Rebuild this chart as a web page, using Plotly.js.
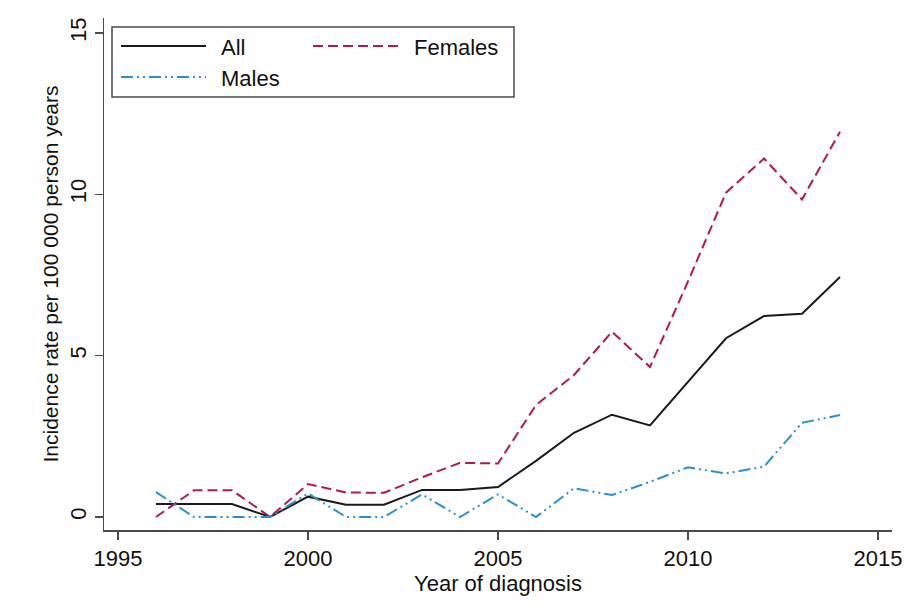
<!DOCTYPE html>
<html>
<head>
<meta charset="utf-8">
<script src="https://cdn.plot.ly/plotly-3.0.1.min.js"></script>
<style>
  html, body { margin: 0; padding: 0; background: #ffffff; }
  #chart { width: 916px; height: 612px; }
</style>
</head>
<body>
<div id="chart"></div>
<script>
// ---- Data ----
const years = [1996, 1997, 1998, 1999, 2000, 2001, 2002, 2003, 2004, 2005,
               2006, 2007, 2008, 2009, 2010, 2011, 2012, 2013, 2014];
const allRate = [0.40, 0.40, 0.40, 0.00, 0.63, 0.38, 0.38, 0.84, 0.84, 0.93,
                 1.74, 2.61, 3.17, 2.84, 4.19, 5.54, 6.23, 6.30, 7.44];
const femaleRate = [0.00, 0.83, 0.83, 0.00, 1.02, 0.76, 0.75, 1.23, 1.68, 1.66,
                    3.47, 4.40, 5.74, 4.65, 7.30, 10.05, 11.11, 9.84, 11.94];
const maleRate = [0.77, 0.00, 0.00, 0.00, 0.73, 0.00, 0.00, 0.70, 0.00, 0.70,
                  0.00, 0.89, 0.68, 1.09, 1.54, 1.35, 1.56, 2.92, 3.16];

const seriesNames = ["All", "Females", "Males"];
const xTicks = [1995, 2000, 2005, 2010, 2015];
const yTicks = [0, 5, 10, 15];
const xTitle = "Year of diagnosis";
const yTitle = "Incidence rate per 100 000 person years";

// ---- Styles ----
const colAll = "#1a1a1a";
const colFem = "#b3174c";
const colMale = "#2a8fd2";
const dashFem = "10px,5px";
const dashMale = "12px,4px,2px,4px,2px,4px";
const axisCol = "#4a4a4a";
const FONT = "Liberation Sans, Arial, sans-serif";

// plot area in pixels
const L = 104, R = 892, T = 18, B = 530;
const W = R - L, H = B - T;
const px = x => (x - L) / W;
const py = y => (B - y) / H;

const traces = [
  { x: years, y: allRate, name: seriesNames[0], mode: "lines",
    line: { color: colAll, width: 2 } },
  { x: years, y: femaleRate, name: seriesNames[1], mode: "lines",
    line: { color: colFem, width: 2, dash: dashFem } },
  { x: years, y: maleRate, name: seriesNames[2], mode: "lines",
    line: { color: colMale, width: 2, dash: dashMale } }
];

// custom legend (box, line samples, labels)
const shapes = [
  { type: "rect", xref: "paper", yref: "paper",
    x0: px(112), x1: px(514), y0: py(97), y1: py(27),
    line: { color: axisCol, width: 1.5 }, fillcolor: "rgba(0,0,0,0)" },
  { type: "line", xref: "paper", yref: "paper",
    x0: px(121), x1: px(206), y0: py(46), y1: py(46),
    line: { color: colAll, width: 2 } },
  { type: "line", xref: "paper", yref: "paper",
    x0: px(313), x1: px(400), y0: py(46), y1: py(46),
    line: { color: colFem, width: 2, dash: dashFem } },
  { type: "line", xref: "paper", yref: "paper",
    x0: px(121), x1: px(206), y0: py(77), y1: py(77),
    line: { color: colMale, width: 2, dash: dashMale } }
];
const legFont = { family: FONT, size: 22, color: "#111111" };
const annotations = [
  { xref: "paper", yref: "paper", x: px(219), y: py(47), text: seriesNames[0],
    showarrow: false, xanchor: "left", yanchor: "middle", font: legFont },
  { xref: "paper", yref: "paper", x: px(412), y: py(47), text: seriesNames[1],
    showarrow: false, xanchor: "left", yanchor: "middle", font: legFont },
  { xref: "paper", yref: "paper", x: px(219), y: py(78), text: seriesNames[2],
    showarrow: false, xanchor: "left", yanchor: "middle", font: legFont }
];

// axis ranges so that 1995->x=118, 2015->x=878, 0->y=517, 15->y=33
const xPerYear = (878 - 118) / 20;
const xr0 = 1995 - (118 - L) / xPerYear;
const xr1 = 2015 + (R - 878) / xPerYear;
const yPerUnit = (517 - 33) / 15;
const yr0 = 0 - (B - 517) / yPerUnit;
const yr1 = 15 + (33 - T) / yPerUnit;

const layout = {
  width: 916, height: 612,
  margin: { l: L, r: 916 - R, t: T, b: 612 - B, pad: 0 },
  paper_bgcolor: "#ffffff", plot_bgcolor: "#ffffff",
  showlegend: false,
  font: { family: FONT, size: 22, color: "#111111" },
  xaxis: {
    range: [xr0, xr1], tickvals: xTicks, ticktext: xTicks.map(String),
    showgrid: false, zeroline: false, showline: true,
    linecolor: axisCol, linewidth: 1.5,
    ticks: "outside", ticklen: 8, tickwidth: 1.5, tickcolor: axisCol,
    tickfont: { family: FONT, size: 22, color: "#111111" },
    title: { text: xTitle, standoff: 0, font: { family: FONT, size: 22, color: "#111111" } }
  },
  yaxis: {
    range: [yr0, yr1], tickvals: yTicks, ticktext: yTicks.map(String),
    showgrid: false, zeroline: false, showline: true,
    linecolor: axisCol, linewidth: 1.5,
    ticks: "outside", ticklen: 8, tickwidth: 1.5, tickcolor: axisCol,
    tickangle: -90,
    tickfont: { family: FONT, size: 22, color: "#111111" },
    title: { text: yTitle, standoff: 1, font: { family: FONT, size: 21, color: "#111111" } }
  },
  shapes: shapes,
  annotations: annotations
};

Plotly.newPlot("chart", traces, layout, { displayModeBar: false, staticPlot: true });
</script>
</body>
</html>
